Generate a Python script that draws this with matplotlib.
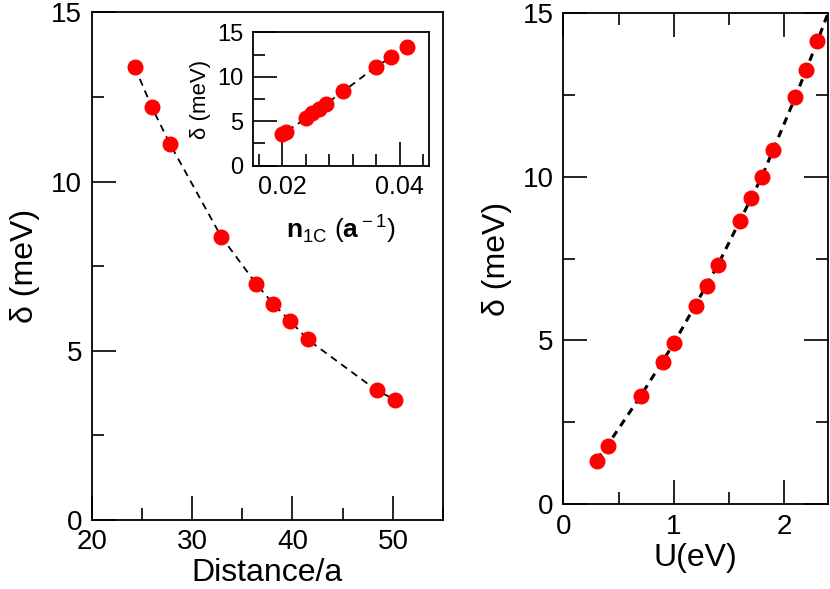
import matplotlib
matplotlib.use("Agg")
from matplotlib import pyplot as plt
from matplotlib.ticker import MultipleLocator

# left panel: gap vs distance
distance = [24.3, 26.0, 27.8, 32.9, 36.4, 38.05, 39.8, 41.5, 48.4, 50.2]
gap_dist = [13.38, 12.19, 11.11, 8.37, 6.97, 6.39, 5.87, 5.33, 3.82, 3.55]

# inset: gap vs density n_1C
density = [0.0412, 0.0385, 0.0359, 0.0304, 0.0275, 0.0263, 0.0251, 0.0241, 0.0206, 0.0199]
gap_dens = [13.38, 12.19, 11.11, 8.37, 6.97, 6.39, 5.87, 5.33, 3.82, 3.55]

# right panel: gap vs U
U = [0.3, 0.4, 0.7, 0.9, 1.0, 1.2, 1.3, 1.4, 1.6, 1.7, 1.8, 1.9, 2.1, 2.2, 2.3]
gap_U = [1.31, 1.78, 3.30, 4.35, 4.91, 6.06, 6.67, 7.30, 8.65, 9.34, 10.0, 10.82, 12.42, 13.27, 14.16]
U_fit = [0.3, 0.4, 0.7, 1.0, 1.4, 1.8, 2.1, 2.3, 2.4]
gap_fit = [1.35, 1.8, 3.3, 4.9, 7.3, 10.0, 12.4, 14.1, 15.0]

plt.rcParams['font.family'] = ['Liberation Sans', 'DejaVu Sans']
plt.rcParams['mathtext.fontset'] = 'custom'
plt.rcParams['mathtext.rm'] = 'Liberation Sans'
plt.rcParams['mathtext.bf'] = 'Liberation Sans:bold'

fig = plt.figure(figsize=(8.3, 5.89), dpi=100)
ax1 = fig.add_axes([0.1105, 0.1178, 0.4233, 0.861])
ax2 = fig.add_axes([0.6789, 0.1443, 0.3187, 0.8336])
axi = fig.add_axes([0.3045, 0.7187, 0.2128, 0.2265])


def style(ax, fs, mirror=False):
    for s in ax.spines.values():
        s.set_linewidth(1.3)
    ax.tick_params(which='both', direction='in', top=mirror, right=mirror,
                   labelsize=fs, width=1.2, pad=7)
    ax.tick_params(which='major', length=17)
    ax.tick_params(which='minor', length=8.5)


mk = dict(marker='o', color='red', markersize=10.5, linestyle='none', zorder=3)

ax1.plot(distance, gap_dist, '--', color='black', lw=1.3, dashes=(4, 3))
ax1.plot(distance, gap_dist, **mk)
ax1.set_xlim(20, 55)
ax1.set_ylim(0, 15)
ax1.xaxis.set_major_locator(MultipleLocator(10))
ax1.xaxis.set_minor_locator(MultipleLocator(5))
ax1.yaxis.set_major_locator(MultipleLocator(5))
ax1.yaxis.set_minor_locator(MultipleLocator(2.5))
style(ax1, 20)
ax1.set_xlabel('Distance/a', fontsize=23, labelpad=2)
ax1.set_ylabel('δ (meV)', fontsize=23, labelpad=8)

axi.plot(density, gap_dens, '--', color='black', lw=1.3, dashes=(4, 3))
axi.plot(density, gap_dens, **mk)
axi.set_xlim(0.015, 0.045)
axi.set_ylim(0, 15)
axi.xaxis.set_major_locator(MultipleLocator(0.02))
axi.xaxis.set_minor_locator(MultipleLocator(0.004))
axi.yaxis.set_major_locator(MultipleLocator(5))
axi.yaxis.set_minor_locator(MultipleLocator(2.5))
style(axi, 17)
axi.tick_params(axis='x', labelsize=18)
axi.xaxis.set_major_formatter(plt.FuncFormatter(lambda v, p: f'{v:.2f}'))
axi.set_xlabel(r'$\mathbf{n}_{\rm 1C}$ ($\mathbf{a}^{\rm -1}$)', fontsize=19, labelpad=9)
axi.set_ylabel('δ (meV)', fontsize=16, labelpad=4)

ax2.plot(U_fit, gap_fit, '--', color='black', lw=2.2, dashes=(2.5, 2))
ax2.plot(U, gap_U, **mk)
ax2.set_xlim(0, 2.4)
ax2.set_ylim(0, 15)
ax2.xaxis.set_major_locator(MultipleLocator(1))
ax2.xaxis.set_minor_locator(MultipleLocator(0.5))
ax2.yaxis.set_major_locator(MultipleLocator(5))
ax2.yaxis.set_minor_locator(MultipleLocator(2.5))
style(ax2, 20, mirror=True)
ax2.set_xlabel('U(eV)', fontsize=23, labelpad=2)
ax2.set_ylabel('δ (meV)', fontsize=23, labelpad=8)

fig.savefig('out.png', dpi=100)
